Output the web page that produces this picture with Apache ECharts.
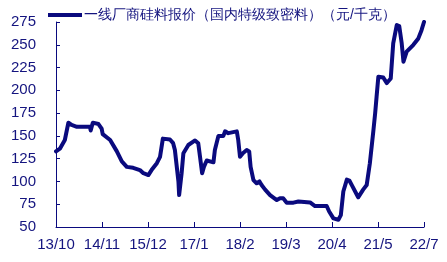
<!DOCTYPE html>
<html>
<head>
<meta charset="utf-8">
<script src="https://cdn.jsdelivr.net/npm/echarts@6/dist/echarts.min.js"></script>
<style>
  html, body { margin: 0; padding: 0; background: #fff; }
  #chart { width: 447px; height: 262px; }
</style>
</head>
<body>
<div id="chart"></div>
<script>
// months counted from 2013/10
var monthIdx = [0, 1.1, 2.5, 3.5, 4.4, 5.9, 9.6, 9.8, 10.4, 12.0, 12.9, 13.2, 15.3, 17.2, 18.6, 20.0,
  21.8, 23.7, 24.7, 26.1, 27.0, 28.5, 29.4, 30.2, 32.2, 33.1, 33.6, 34.6, 34.8, 35.5, 36.0, 37.4,
  39.3, 40.2, 40.7, 41.3, 41.8, 42.6, 44.5, 44.9, 45.9, 47.3, 47.8, 48.7, 49.2, 51.1, 51.5, 52.0,
  52.8, 53.9, 54.6, 55.0, 55.8, 56.7, 57.5, 58.1, 59.1, 60.5, 62.4, 63.3, 64.2, 65.2, 67.1, 68.5,
  71.8, 73.2, 76.5, 77.2, 78.4, 79.8, 80.5, 81.2, 82.2, 82.9, 83.6, 85.4, 86.8, 87.8, 88.7, 89.7,
  90.2, 90.6, 91.1, 92.5, 93.5, 94.6, 95.3, 96.3, 97.0, 97.7, 98.2, 99.1, 101.0, 102.4, 103.3, 104];
var prices = [133, 136, 145.5, 164.5, 162, 160, 160, 156, 164.5, 163, 158, 152, 145.5, 133, 122, 116,
  115, 112.5, 109, 107, 112.5, 120, 127, 147, 146, 142, 134.5, 100, 85, 109, 131, 140,
  145, 142, 127, 109, 116, 123, 121, 134.5, 150, 150, 155, 153, 155, 155, 145.5, 127,
  131, 134.5, 133, 116, 101.5, 98, 100, 96, 91, 85, 79.6, 81.5, 81.5, 76.7, 76.7, 78,
  77, 73, 73, 67, 59.5, 58, 63, 89, 102, 101, 96, 82.6, 91, 96, 120, 156,
  175, 193, 215, 214, 208, 213, 251.6, 271.7, 270.6, 251.6, 231.4, 242.4, 250, 257, 266, 275];
var xTickLabels = ['13/10', '14/11', '15/12', '17/1', '18/2', '19/3', '20/4', '21/5', '22/7'];
var seriesName = '一线厂商硅料报价（国内特级致密料）（元/千克）';

var navy = '#0a0a7e';
var textColor = '#14147f';

var points = monthIdx.map(function (m, i) { return [m, prices[i]]; });

var chart = echarts.init(document.getElementById('chart'));
chart.setOption({
  animation: false,
  textStyle: { fontFamily: 'Liberation Sans, Arial, sans-serif' },
  legend: {
    data: [seriesName],
    left: 43,
    top: 3,
    itemWidth: 34,
    itemHeight: 14,
    itemGap: 4,
    icon: 'path://M0,5.5 L34,5.5 L34,9.5 L0,9.5 Z',
    textStyle: { fontSize: 14, color: textColor, padding: [0, 0, 0, -3] }
  },
  grid: { left: 56, right: 23, top: 22, bottom: 35, containLabel: false },
  xAxis: {
    type: 'value',
    min: 0,
    max: 104,
    interval: 13,
    axisLine: { lineStyle: { color: navy, width: 1 } },
    axisTick: { inside: true, length: 5, lineStyle: { color: navy } },
    splitLine: { show: false },
    axisLabel: {
      fontSize: 15,
      color: textColor,
      margin: 10,
      formatter: function (v) { return xTickLabels[Math.round(v / 13)]; }
    }
  },
  yAxis: {
    type: 'value',
    min: 50,
    max: 275,
    interval: 25,
    axisLine: { show: true, lineStyle: { color: navy, width: 1 } },
    axisTick: { show: true, inside: true, length: 4, lineStyle: { color: navy } },
    splitLine: { show: false },
    axisLabel: { fontSize: 15, color: textColor, margin: 20 }
  },
  series: [{
    name: seriesName,
    type: 'line',
    data: points,
    showSymbol: false,
    clip: true,
    lineStyle: { color: navy, width: 4, join: 'round', cap: 'round' },
    itemStyle: { color: navy }
  }]
});
</script>
</body>
</html>
